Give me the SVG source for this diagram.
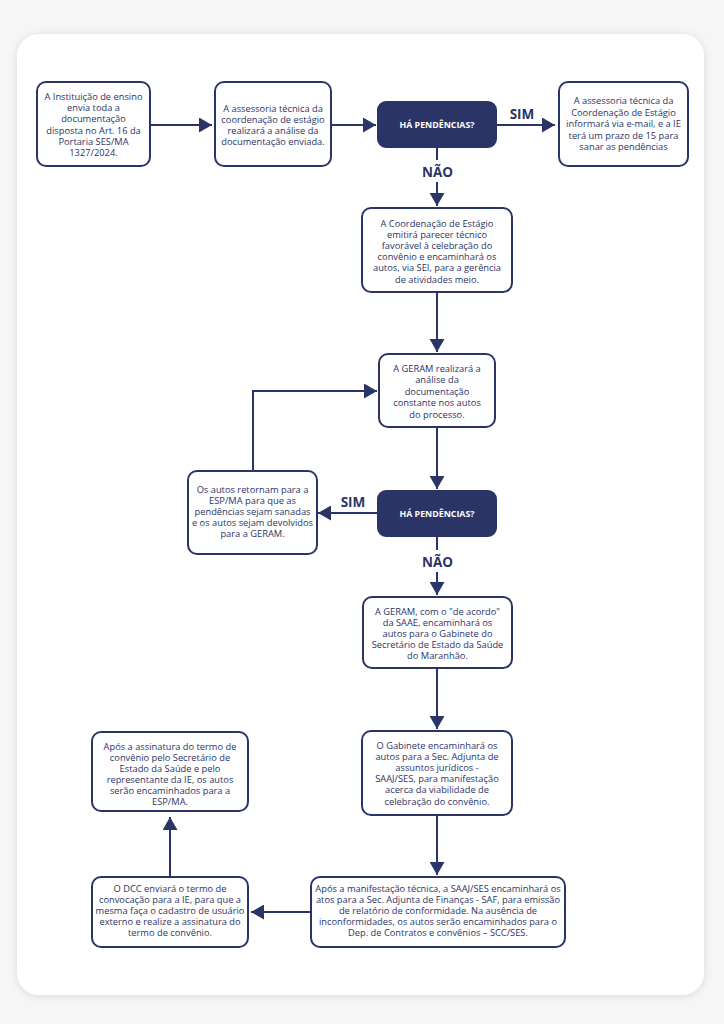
<svg xmlns="http://www.w3.org/2000/svg" width="724" height="1024" viewBox="0 0 724 1024">
<defs>
<filter id="sh" x="-10%" y="-10%" width="120%" height="120%">
<feGaussianBlur in="SourceAlpha" stdDeviation="5"/>
<feOffset dx="0" dy="1" result="b"/>
<feComponentTransfer><feFuncA type="linear" slope="0.12"/></feComponentTransfer>
<feMerge><feMergeNode/><feMergeNode in="SourceGraphic"/></feMerge>
</filter>
<marker id="ah" markerUnits="userSpaceOnUse" markerWidth="13" markerHeight="15" refX="13" refY="7.5" orient="auto">
<path d="M0,0 L13,7.5 L0,15 z" fill="#2b3467"/>
</marker>
<style>
.box{fill:#fff;stroke:#2b3467;stroke-width:2}
.dec{fill:#2b3467;stroke:#2b3467;stroke-width:2}
.t{font-family:"Open Sans","Noto Sans",sans-serif;font-size:9.3px;fill:#2b3467;text-anchor:middle}
.dt{font-family:"Open Sans","Noto Sans",sans-serif;font-size:8.8px;font-weight:700;fill:#fff;text-anchor:middle}
.lb{font-family:"Open Sans","Noto Sans",sans-serif;font-size:13.5px;font-weight:700;fill:#2b3467;text-anchor:middle}
.c{fill:none;stroke:#2b3467;stroke-width:2}
</style>
</defs>
<rect width="724" height="1024" fill="#f6f6f6"/>
<rect x="17" y="34" width="687" height="961" rx="22" fill="#fff" filter="url(#sh)"/>

<g id="connectors">
<path class="c" d="M150,125 H212" marker-end="url(#ah)"/>
<path class="c" d="M331,125 H376" marker-end="url(#ah)"/>
<path class="c" d="M496,125 H555" marker-end="url(#ah)"/>
<path class="c" d="M437,147 V160"/>
<path class="c" d="M437,182 V206" marker-end="url(#ah)"/>
<path class="c" d="M437,292 V352" marker-end="url(#ah)"/>
<path class="c" d="M437,427 V489" marker-end="url(#ah)"/>
<path class="c" d="M378,513 H318" marker-end="url(#ah)"/>
<path class="c" d="M253,471 V391 H377" marker-end="url(#ah)"/>
<path class="c" d="M437,536 V550"/>
<path class="c" d="M437,572 V595" marker-end="url(#ah)"/>
<path class="c" d="M437,668 V729" marker-end="url(#ah)"/>
<path class="c" d="M437,815 V875" marker-end="url(#ah)"/>
<path class="c" d="M311,912 H251" marker-end="url(#ah)"/>
<path class="c" d="M170,877 V817" marker-end="url(#ah)"/>
<text class="lb" x="522" y="119">SIM</text>
<text class="lb" x="437.5" y="177">NÃO</text>
<text class="lb" x="353" y="507">SIM</text>
<text class="lb" x="437.5" y="567">NÃO</text>
</g>

<g id="n1">
<rect class="box" x="37" y="82" width="113" height="84" rx="9"/>
<text class="t" x="93.5"><tspan x="93.5" y="100">A Instituição de ensino</tspan><tspan x="93.5" y="111.2">envia toda a</tspan><tspan x="93.5" y="122.4">documentação</tspan><tspan x="93.5" y="133.6">disposta no Art. 16 da</tspan><tspan x="93.5" y="144.8">Portaria SES/MA</tspan><tspan x="93.5" y="156">1327/2024.</tspan></text>
</g>
<g id="n2">
<rect class="box" x="215" y="82" width="116" height="84" rx="9"/>
<text class="t"><tspan x="273" y="111.5">A assessoria técnica da</tspan><tspan x="273" y="122.7">coordenação de estágio</tspan><tspan x="273" y="133.9">realizará a análise da</tspan><tspan x="273" y="145.1">documentação enviada.</tspan></text>
</g>
<g id="d1">
<rect class="dec" x="378" y="102" width="118" height="45" rx="8"/>
<text class="dt" x="437" y="128">HÁ PENDÊNCIAS?</text>
</g>
<g id="n3">
<rect class="box" x="559" y="82" width="129" height="84" rx="9"/>
<text class="t"><tspan x="623.5" y="104">A assessoria técnica da</tspan><tspan x="623.5" y="115.5">Coordenação de Estágio</tspan><tspan x="623.5" y="127">informará via e-mail, e a IE</tspan><tspan x="623.5" y="138.5">terá um prazo de 15 para</tspan><tspan x="623.5" y="150">sanar as pendências</tspan></text>
</g>
<g id="n4">
<rect class="box" x="362" y="208" width="150" height="84" rx="9"/>
<text class="t"><tspan x="437" y="226.5">A Coordenação de Estágio</tspan><tspan x="437" y="237.7">emitirá parecer técnico</tspan><tspan x="437" y="248.9">favorável à celebração do</tspan><tspan x="437" y="260.1">convênio e encaminhará os</tspan><tspan x="437" y="271.3">autos, via SEI, para a gerência</tspan><tspan x="437" y="282.5">de atividades meio.</tspan></text>
</g>
<g id="n5">
<rect class="box" x="379" y="354" width="116" height="73" rx="9"/>
<text class="t"><tspan x="437" y="371.5">A GERAM realizará a</tspan><tspan x="437" y="383">análise da</tspan><tspan x="437" y="394.5">documentação</tspan><tspan x="437" y="406">constante nos autos</tspan><tspan x="437" y="417.5">do processo.</tspan></text>
</g>
<g id="d2">
<rect class="dec" x="378" y="491" width="118" height="45" rx="8"/>
<text class="dt" x="437" y="517">HÁ PENDÊNCIAS?</text>
</g>
<g id="n6">
<rect class="box" x="188" y="471" width="129" height="83" rx="9"/>
<text class="t"><tspan x="252.5" y="493">Os autos retornam para a</tspan><tspan x="252.5" y="504">ESP/MA para que as</tspan><tspan x="252.5" y="515">pendências sejam sanadas</tspan><tspan x="252.5" y="526">e os autos sejam devolvidos</tspan><tspan x="252.5" y="537">para a GERAM.</tspan></text>
</g>
<g id="n7">
<rect class="box" x="363" y="597" width="149" height="71" rx="9"/>
<text class="t"><tspan x="437.5" y="614.5">A GERAM, com o "de acordo"</tspan><tspan x="437.5" y="625.5">da SAAE, encaminhará os</tspan><tspan x="437.5" y="636.5">autos para o Gabinete do</tspan><tspan x="437.5" y="647.5">Secretário de Estado da Saúde</tspan><tspan x="437.5" y="658.5">do Maranhão.</tspan></text>
</g>
<g id="n8">
<rect class="box" x="362" y="731" width="150" height="84" rx="9"/>
<text class="t"><tspan x="437" y="748.5">O Gabinete encaminhará os</tspan><tspan x="437" y="759.7">autos para a Sec. Adjunta de</tspan><tspan x="437" y="770.9">assuntos jurídicos -</tspan><tspan x="437" y="782.1">SAAJ/SES, para manifestação</tspan><tspan x="437" y="793.3">acerca da viabilidade de</tspan><tspan x="437" y="804.5">celebração do convênio.</tspan></text>
</g>
<g id="n9">
<rect class="box" x="311" y="877" width="254" height="70" rx="9"/>
<text class="t"><tspan x="438" y="892">Após a manifestação técnica, a SAAJ/SES encaminhará os</tspan><tspan x="438" y="903">atos para a Sec. Adjunta de Finanças - SAF, para emissão</tspan><tspan x="438" y="914">de relatório de conformidade. Na ausência de</tspan><tspan x="438" y="925">inconformidades, os autos serão encaminhados para o</tspan><tspan x="438" y="936">Dep. de Contratos e convênios – SCC/SES.</tspan></text>
</g>
<g id="n10">
<rect class="box" x="92" y="877" width="156" height="70" rx="9"/>
<text class="t"><tspan x="170" y="892">O DCC enviará o termo de</tspan><tspan x="170" y="903">convocação para a IE, para que a</tspan><tspan x="170" y="914">mesma faça o cadastro de usuário</tspan><tspan x="170" y="925">externo e realize a assinatura do</tspan><tspan x="170" y="936">termo de convênio.</tspan></text>
</g>
<g id="n11">
<rect class="box" x="92" y="732" width="156" height="79" rx="9"/>
<text class="t"><tspan x="170" y="750">Após a assinatura do termo de</tspan><tspan x="170" y="761">convênio pelo Secretário de</tspan><tspan x="170" y="772">Estado da Saúde e pelo</tspan><tspan x="170" y="783">representante da IE, os autos</tspan><tspan x="170" y="794">serão encaminhados para a</tspan><tspan x="170" y="805">ESP/MA.</tspan></text>
</g>
</svg>
